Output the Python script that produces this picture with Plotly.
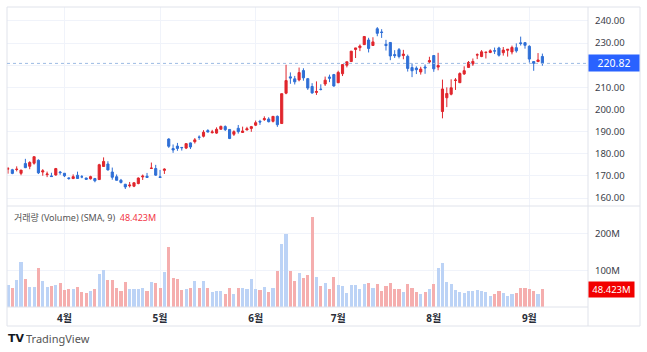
import plotly.graph_objects as go
import pandas as pd

# ---------------- data ----------------
holidays = ["2024-03-29", "2024-05-27", "2024-06-19", "2024-07-04", "2024-09-02"]
dates = [d.strftime("%Y-%m-%d") for d in pd.bdate_range("2024-03-12", "2024-09-06")
         if d.strftime("%Y-%m-%d") not in holidays]

open_ = [
    173.15, 172.77, 172.91, 171.17, 175.57, 174.34, 175.72, 177.05, 171.76, 170.57, 170.00, 170.41, 171.75,
    171.19, 169.08, 168.79, 170.29, 169.59, 169.03, 168.70, 168.80, 168.34, 174.26, 175.36, 171.75, 169.61,
    168.03, 166.21, 165.52, 165.35, 166.54, 169.53, 169.88, 173.37, 173.33,
    169.58, 172.51, 186.65, 182.35, 183.45, 182.85, 182.56, 184.90, 185.44, 187.51, 187.91, 190.47, 189.51,
    189.33, 191.09, 192.27, 190.98, 188.82, 191.51, 189.61, 190.76, 191.44,
    192.90, 194.64, 195.40, 195.69, 194.65, 196.90, 193.65, 207.37, 214.74, 213.85, 213.37, 217.59, 213.93,
    210.39, 207.72, 209.15, 211.50, 214.69, 215.77,
    212.09, 216.15, 220.00, 221.65, 227.09, 227.93, 229.30, 231.39, 228.92, 236.48, 235.00, 229.45, 230.28,
    224.82, 227.01, 224.37, 224.00, 218.93, 218.70, 216.96, 219.19, 221.44,
    224.37, 219.15, 199.09, 205.30, 206.90, 213.11, 212.10, 216.07, 219.01, 220.57, 224.60, 223.92, 225.72,
    225.77, 226.52, 227.79, 225.66, 226.76, 226.00, 227.92, 230.10, 230.19,
    228.55, 221.66, 221.63, 223.95,
]
high = [
    174.03, 173.19, 174.31, 172.62, 177.71, 176.61, 178.67, 177.49, 173.05, 171.94, 171.42, 173.60, 172.23,
    171.25, 169.34, 170.68, 171.92, 170.39, 169.20, 170.08, 169.09, 175.46, 178.36, 176.63, 173.76, 170.65,
    168.64, 166.40, 167.26, 167.05, 169.30, 170.61, 171.34, 176.03, 174.99,
    172.71, 173.42, 187.00, 184.20, 184.90, 183.07, 184.66, 185.09, 187.10, 188.30, 190.65, 191.10, 190.81,
    191.92, 192.73, 192.82, 191.00, 190.58, 193.00, 192.25, 192.18, 192.57,
    194.99, 195.32, 196.90, 196.50, 196.94, 197.30, 207.16, 220.20, 216.75, 215.17, 218.95, 218.63, 214.24,
    211.89, 212.70, 211.38, 214.86, 215.74, 216.07,
    217.51, 220.38, 221.55, 226.45, 227.85, 229.40, 233.08, 232.39, 232.64, 237.23, 236.27, 231.46, 230.44,
    226.80, 227.78, 226.94, 224.80, 220.85, 219.49, 219.30, 220.33, 223.82,
    224.48, 225.60, 213.50, 209.99, 213.64, 214.20, 216.78, 219.51, 221.89, 223.03, 225.35, 226.83, 225.99,
    227.17, 227.98, 228.34, 228.22, 227.28, 228.85, 229.86, 232.92, 230.40,
    229.00, 221.78, 225.48, 225.24,
]
low = [
    171.01, 170.76, 172.05, 170.29, 173.52, 173.03, 175.09, 170.84, 170.06, 169.45, 169.58, 170.11, 170.51,
    169.48, 168.23, 168.58, 168.82, 168.95, 168.24, 168.35, 167.11, 168.16, 174.21, 172.50, 168.27, 168.00,
    166.55, 164.08, 164.77, 164.92, 166.21, 168.15, 169.18, 173.10, 170.00,
    169.11, 170.89, 182.66, 180.42, 181.32, 181.45, 182.11, 182.13, 184.62, 186.29, 187.37, 189.66, 189.18,
    189.01, 190.92, 190.27, 186.63, 188.04, 189.10, 189.51, 190.63, 189.91,
    192.52, 193.03, 194.87, 194.17, 194.14, 192.15, 193.63, 206.90, 211.60, 211.30, 212.72, 213.00, 208.85,
    207.11, 206.59, 208.61, 210.64, 212.35, 210.30,
    211.92, 215.10, 219.03, 221.65, 223.25, 226.37, 229.25, 225.77, 228.68, 233.09, 232.33, 226.64, 222.27,
    223.28, 223.09, 222.68, 217.13, 214.62, 216.01, 215.75, 216.12, 220.63,
    217.02, 217.71, 196.00, 201.07, 206.39, 208.83, 211.97, 215.60, 219.01, 219.70, 222.76, 223.65, 223.04,
    225.45, 225.05, 223.90, 224.33, 223.89, 224.89, 225.68, 228.88, 227.48,
    221.17, 217.48, 221.52, 219.77,
]
close = [
    173.23, 171.13, 173.00, 172.62, 173.72, 176.08, 178.67, 171.37, 172.28, 170.85, 169.71, 173.31, 171.48,
    170.03, 168.84, 169.65, 168.82, 169.58, 168.45, 169.67, 167.78, 175.04, 176.55, 172.69, 169.38, 168.00,
    167.04, 165.00, 165.84, 166.90, 169.02, 169.89, 169.30, 173.50, 170.33,
    169.30, 173.03, 183.38, 181.71, 182.40, 182.74, 184.57, 183.05, 186.28, 187.43, 189.72, 189.84, 189.87,
    191.04, 192.35, 190.90, 186.88, 189.98, 189.99, 190.29, 191.29, 192.25,
    194.03, 194.35, 195.87, 194.48, 196.89, 193.12, 207.15, 213.07, 214.24, 212.49, 216.67, 214.29, 209.68,
    207.49, 208.14, 209.07, 213.25, 214.10, 210.62,
    216.75, 220.27, 221.55, 226.34, 227.82, 228.68, 232.98, 227.57, 230.54, 234.40, 234.82, 228.88, 224.18,
    224.31, 223.96, 225.01, 218.54, 217.49, 217.96, 218.24, 218.80, 222.08,
    218.36, 219.86, 209.27, 207.23, 209.82, 213.31, 216.24, 217.53, 221.27, 221.72, 224.72, 226.05, 225.89,
    226.51, 226.40, 224.53, 226.84, 227.18, 228.03, 226.49, 229.79, 229.00,
    222.77, 220.85, 222.38, 220.82,
]
volume_m = [
    59.8, 52.5, 72.9, 121.8, 75.6, 55.2, 53.4, 106.2, 71.1, 54.3, 57.4, 60.3, 65.7,
    46.2, 49.3, 47.7, 53.7, 42.1, 37.4, 42.4, 49.7, 91.1, 101.6, 73.5, 73.7, 50.9, 43.1, 68.1,
    48.1, 49.5, 48.3, 50.6, 44.8, 68.2, 65.9,
    50.4, 94.2, 163.2, 78.6, 77.3, 45.1, 48.9, 50.8, 72.0, 52.4, 70.4, 52.8, 41.3, 44.4, 42.3,
    34.6, 51.0, 36.3, 52.3, 53.1, 49.9, 75.2,
    50.1, 47.5, 54.2, 41.2, 53.1, 97.3, 172.4, 198.1, 97.9, 70.1, 93.7, 79.9, 86.2, 246.4,
    80.7, 56.7, 66.2, 49.8, 82.5,
    60.4, 58.0, 37.4, 60.4, 59.1, 48.1, 62.6, 64.7, 53.0, 62.6, 43.2, 57.3, 66.0, 49.2, 48.2,
    39.9, 61.8, 51.4, 41.6, 36.3, 41.6, 50.0,
    62.5, 105.6, 119.5, 69.2, 63.5, 47.2, 42.2, 38.0, 44.2, 43.2, 46.4, 44.3, 40.7, 30.3, 34.8,
    43.7, 38.7, 30.6, 35.9, 38.1, 51.9, 52.0,
    50.2, 43.8, 36.5, 48.423,
]
assert len(dates) == len(open_) == len(high) == len(low) == len(close) == len(volume_m)

month_ticks = ["2024-04-01", "2024-05-01", "2024-06-03", "2024-07-01", "2024-08-01", "2024-09-03"]
month_labels = ["4월", "5월", "6월", "7월", "8월", "9월"]
price_ticks = [160, 170, 180, 190, 200, 210, 220, 230, 240]
vol_ticks = [100, 200]
vol_tick_labels = ["100M", "200M"]

last_price = close[-1]
last_volume = volume_m[-1]

# ---------------- style ----------------
UP = "#e0262d"
DOWN = "#2f6fd6"
VOL_UP = "#bcd3f6"
VOL_DOWN = "#f5aeae"
GRID = "#f0f3fa"
FRAME = "#e0e3eb"
FONT = "Noto Sans, Noto Sans CJK KR, sans-serif"

vol_colors = [VOL_UP if c >= o else VOL_DOWN for o, c in zip(open_, close)]

# the last-price badge covers the tick label next to it, as in the original
price_ticktext = ["" if abs(v - last_price) < 3 else f"{v:.2f}" for v in price_ticks]

fig = go.Figure()
fig.add_trace(go.Candlestick(
    x=dates, open=open_, high=high, low=low, close=close,
    increasing=dict(line=dict(color=UP, width=1), fillcolor=UP),
    decreasing=dict(line=dict(color=DOWN, width=1), fillcolor=DOWN),
    whiskerwidth=0, xaxis="x", yaxis="y", showlegend=False, hoverinfo="skip",
))
fig.add_trace(go.Bar(
    x=dates, y=volume_m, marker=dict(color=vol_colors, line=dict(width=0)),
    width=0.72, xaxis="x2", yaxis="y2", showlegend=False, hoverinfo="skip",
))

W, H = 647, 352
ml, mr, mt, mb = 7, 59, 7, 45
plot_h = H - mt - mb
plot_w = W - ml - mr
split = (307 - 206) / plot_h
xr = [-0.23, 133.5]

fig.update_layout(
    width=W, height=H, margin=dict(l=ml, r=mr, t=mt, b=mb),
    paper_bgcolor="white", plot_bgcolor="white",
    font=dict(family=FONT, size=10, color="#333"),
    bargap=0,
    xaxis=dict(type="category", range=xr, domain=[0, 1], anchor="y",
               tickvals=month_ticks, ticktext=month_labels, showticklabels=False,
               showgrid=True, gridcolor=GRID, gridwidth=1, zeroline=False,
               rangeslider=dict(visible=False), showline=False, ticks=""),
    xaxis2=dict(type="category", range=xr, domain=[0, 1], anchor="y2", matches="x",
                tickvals=month_ticks, ticktext=[f"<b>{t}</b>" for t in month_labels],
                showticklabels=True,
                tickfont=dict(size=10, color="#2a2e39", family=FONT),
                showgrid=True, gridcolor=GRID, gridwidth=1, zeroline=False,
                showline=False, ticks="", ticklabelstandoff=4),
    yaxis=dict(domain=[split, 1], range=[156.4, 246.3], side="right",
               tickvals=price_ticks, ticktext=price_ticktext,
               showgrid=True, gridcolor=GRID, zeroline=False, ticks="",
               ticklabelstandoff=6, tickfont=dict(size=9.5, color="#3a3e49")),
    yaxis2=dict(domain=[0, split], range=[0, 275], side="right",
                tickvals=vol_ticks, ticktext=vol_tick_labels,
                showgrid=True, gridcolor=GRID, zeroline=False, ticks="",
                ticklabelstandoff=6, tickfont=dict(size=9.5, color="#3a3e49")),
)

xr_frame = (640 - ml) / plot_w
yb_frame = (307 - 326) / plot_h
shapes = [
    dict(type="rect", xref="paper", yref="paper", x0=0, x1=xr_frame, y0=yb_frame, y1=1,
         line=dict(color=FRAME, width=1), layer="above"),
    dict(type="line", xref="paper", yref="paper", x0=1, x1=1, y0=yb_frame, y1=1,
         line=dict(color=FRAME, width=1), layer="above"),
    dict(type="line", xref="paper", yref="paper", x0=0, x1=xr_frame, y0=split, y1=split,
         line=dict(color=FRAME, width=1), layer="above"),
    dict(type="line", xref="paper", yref="paper", x0=0, x1=1, y0=0, y1=0,
         line=dict(color=FRAME, width=1), layer="above"),
    dict(type="line", xref="paper", yref="y", x0=0, x1=1, y0=last_price, y1=last_price,
         line=dict(color="#9dbbe3", width=1, dash="dot"), layer="above"),
]
fig.update_layout(shapes=shapes)

annotations = [
    dict(xref="paper", yref="y", x=1.0, y=last_price, xanchor="left", yanchor="middle",
         text=f"{last_price:.2f}", showarrow=False, bgcolor="#2962ff",
         font=dict(color="white", size=10.5, family=FONT), borderpad=1,
         width=48, align="center"),
    dict(xref="paper", yref="y2", x=1.0, y=last_volume, xanchor="left", yanchor="middle",
         text=f"{last_volume:.3f}M", showarrow=False, bgcolor="#f20000",
         font=dict(color="white", size=9.5, family=FONT), borderpad=1,
         width=43, align="center"),
    dict(xref="paper", yref="paper", x=(12 - ml) / plot_w, y=(307 - 217) / plot_h,
         xanchor="left", yanchor="middle", showarrow=False,
         text="거래량 (Volume) (SMA, 9)  <span style='color:#f23645'>" + f"{last_volume:.3f}M" + "</span>",
         font=dict(size=9, color="#555", family=FONT)),
    dict(xref="paper", yref="paper", x=(6 - ml) / plot_w, y=(307 - 338) / plot_h,
         xanchor="left", yanchor="middle", showarrow=False,
         text="<b>TV</b>", font=dict(size=11, color="#131722", family="DejaVu Sans")),
    dict(xref="paper", yref="paper", x=(24 - ml) / plot_w, y=(307 - 338) / plot_h,
         xanchor="left", yanchor="middle", showarrow=False,
         text="TradingView", font=dict(size=11, color="#555", family=FONT)),
]
fig.update_layout(annotations=annotations)

fig.write_html("out.html")
